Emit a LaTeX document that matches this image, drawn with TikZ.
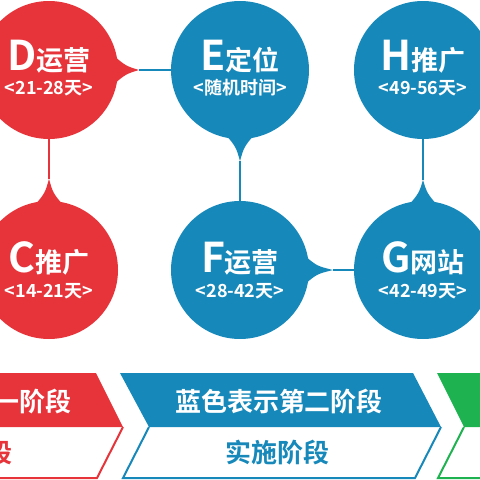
\documentclass[tikz,border=0pt]{standalone}
\usepackage{fontspec}
\setmainfont{Noto Sans CJK SC}[BoldFont={Noto Sans CJK SC Bold}]
\usetikzlibrary{positioning, calc}
\definecolor{stagered}{RGB}{230,52,58}
\definecolor{stageblue}{RGB}{22,136,186}
\definecolor{stagegreen}{RGB}{30,178,80}

\begin{document}
\begin{tikzpicture}[x=1pt, y=1pt]
\tikzset{
    bubble/.style={
        circle,
        minimum size=138pt,
        inner sep=0pt,
        outer sep=0pt,
    },
    R/.style={
        fill=stagered,
    },
    B/.style={
        fill=stageblue,
    },
    link/.style={
        line width=2pt,
    },
    big/.style={font=\bfseries\fontsize{27}{27}\selectfont, text=white, anchor=base, inner sep=0pt},
    small/.style={font=\bfseries\fontsize{18}{18}\selectfont, text=white, anchor=base, inner sep=0pt},
    stagetext/.style={font=\bfseries\fontsize{26}{26}\selectfont, text=white, inner sep=0pt},
    node distance=62pt and 53pt,
}
    \useasboundingbox (0,0) rectangle (480,-480);

    \node[bubble, R] (D) at (49,-70) {};
    \node[bubble, B] (E) [right=of D] {};
    \node[bubble, B] (H) [right=45pt of E] {};
    \node[bubble, R] (C) [below=of D] {};
    \node[bubble, B] (F) [below=of E] {};
    \node[bubble, B] (G) [below=of H] {};

    % tails
    \coordinate (Dtip) at ($(D.east)+(21,0)$);
    \fill[stagered] ($(D.east)+(-4,14)$) .. controls ($(D.east)+(8,4)$) .. (Dtip)
        .. controls ($(D.east)+(8,-4)$) .. ($(D.east)+(-4,-14)$) -- cycle;
    \coordinate (Etip) at ($(E.south)+(0,-22)$);
    \fill[stageblue] ($(E.south)+(14,4)$) .. controls ($(E.south)+(4,-8)$) .. (Etip)
        .. controls ($(E.south)+(-4,-8)$) .. ($(E.south)+(-14,4)$) -- cycle;
    \coordinate (Ctip) at ($(C.north)+(0,22)$);
    \fill[stagered] ($(C.north)+(14,-4)$) .. controls ($(C.north)+(4,8)$) .. (Ctip)
        .. controls ($(C.north)+(-4,8)$) .. ($(C.north)+(-14,-4)$) -- cycle;
    \coordinate (Ftip) at ($(F.east)+(24,0)$);
    \fill[stageblue] ($(F.east)+(-4,14)$) .. controls ($(F.east)+(8,4)$) .. (Ftip)
        .. controls ($(F.east)+(8,-4)$) .. ($(F.east)+(-4,-14)$) -- cycle;
    \coordinate (Gtip) at ($(G.north)+(0,21)$);
    \fill[stageblue] ($(G.north)+(14,-4)$) .. controls ($(G.north)+(4,8)$) .. (Gtip)
        .. controls ($(G.north)+(-4,8)$) .. ($(G.north)+(-14,-4)$) -- cycle;

    % links
    \draw[link, stageblue] (Dtip) -- (E);
    \draw[link, stagered] (D) -- (Ctip);
    \draw[link, stageblue] (Etip) -- (F);
    \draw[link, stageblue] (Ftip) -- (G);
    \draw[link, stageblue] (H) -- (Gtip);

    % texts of the bubbles
    \node[big] (Dname) at ($(D.center)+(0,0)$) {{\fontsize{41}{41}\selectfont D}运营};
    \node[small] (Ddays) at ($(D.center)+(0,-24)$) {<21-28天>};
    \node[big] (Ename) at ($(E.center)+(0,0)$) {{\fontsize{41}{41}\selectfont E}定位};
    \node[small] (Edays) at ($(E.center)+(0,-24)$) {<随机时间>};
    \node[big] (Hname) at ($(H.center)+(0,0)$) {{\fontsize{41}{41}\selectfont H}推广};
    \node[small] (Hdays) at ($(H.center)+(0,-24)$) {<49-56天>};
    \node[big] (Cname) at ($(C.center)+(0,-2)$) {{\fontsize{41}{41}\selectfont C}推广};
    \node[small] (Cdays) at ($(C.center)+(0,-27)$) {<14-21天>};
    \node[big] (Fname) at ($(F.center)+(0,-2)$) {{\fontsize{41}{41}\selectfont F}运营};
    \node[small] (Fdays) at ($(F.center)+(0,-27)$) {<28-42天>};
    \node[big] (Gname) at ($(G.center)+(0,-2)$) {{\fontsize{41}{41}\selectfont G}网站};
    \node[small] (Gdays) at ($(G.center)+(0,-27)$) {<42-49天>};

    % stage arrows
    \fill[stagered] (-30,-373) -- (96,-373) -- (123,-427) -- (-30,-427) -- cycle;
    \draw[link, stagered] (123,-427) -- (97,-478) -- (-30,-478);
    \fill[stageblue] (120,-373) -- (413,-373) -- (441,-427) -- (149,-427) -- cycle;
    \draw[link, stageblue] (149,-427) -- (123,-478) -- (415,-478) -- (441,-427);
    \fill[stagegreen] (437,-373) -- (520,-373) -- (520,-427) -- (464,-427) -- cycle;
    \draw[link, stagegreen] (464,-427) -- (438,-478) -- (520,-478);

    \node[stagetext, anchor=east] (redtop) at (72,-402) {一阶段};
    \node[stagetext, anchor=east, text=stagered] (redbottom) at (13,-453) {段};
    \node[stagetext] (bluetop) at (279,-402) {蓝色表示第二阶段};
    \node[stagetext, text=stageblue] (bluebottom) at (277,-453) {实施阶段};

\end{tikzpicture}
\end{document}
